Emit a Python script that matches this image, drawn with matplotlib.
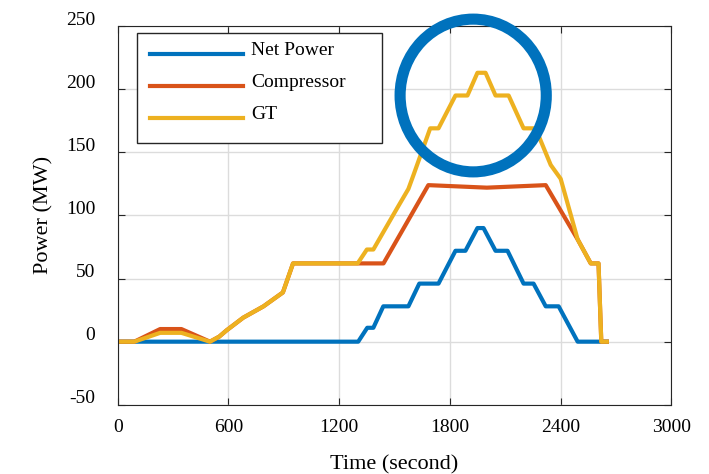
import matplotlib.pyplot as plt
import matplotlib
import matplotlib.transforms as mtransforms
from matplotlib.patches import Ellipse

matplotlib.rcParams['font.family'] = 'Liberation Serif'
matplotlib.rcParams['axes.unicode_minus'] = False

# Net power (MW) vs time (s)
net_t = [0, 1303, 1352, 1385, 1439, 1575, 1634, 1738, 1830, 1884, 1949, 1982,
         2047, 2112, 2199, 2253, 2319, 2389, 2492, 2650]
net_p = [0, 0, 11, 11, 28, 28, 46, 46, 72, 72, 90, 90,
         72, 72, 46, 46, 28, 28, 0, 0]

# Compressor
comp_t = [0, 90, 230, 345, 500, 550, 590, 680, 790, 895, 950, 1440, 1683,
          2000, 2319, 2492, 2563, 2605, 2620, 2650]
comp_p = [0, 0, 10, 10, 0, 4, 9, 19, 28, 39, 62, 62, 124,
          122, 124, 81, 62, 62, 0, 0]

# GT
gt_t = [0, 90, 230, 345, 500, 550, 590, 680, 790, 895, 950, 1300, 1350, 1385,
        1440, 1515, 1575, 1600, 1693, 1738, 1830, 1895, 1949, 1993, 2047, 2118,
        2199, 2264, 2346, 2400, 2492, 2563, 2605, 2620, 2650]
gt_p = [0, 0, 7, 7, 0, 4, 9, 19, 28, 39, 62, 62, 73, 73,
        87, 106, 121, 131, 169, 169, 195, 195, 213, 213, 195, 195,
        169, 169, 140, 129, 81, 62, 62, 0, 0]

fig = plt.figure(figsize=(7.09, 4.74), dpi=100)
ax = fig.add_axes([0.166, 0.146, 0.781, 0.799])

ax.plot(net_t, net_p, color='#0072BD', lw=3, label='Net Power')
ax.plot(comp_t, comp_p, color='#D95319', lw=3, label='Compressor')
ax.plot(gt_t, gt_p, color='#EDB120', lw=3, label='GT')

# highlight ring around the GT peak
ring = Ellipse((1926, 195), 792, 121, fill=False, edgecolor='#0072BD',
               lw=8, clip_on=False, zorder=5)
ax.add_patch(ring)

ax.set_xlim(0, 3000)
ax.set_ylim(-50, 250)
ax.set_xticks([0, 600, 1200, 1800, 2400, 3000])
ax.set_yticks([-50, 0, 50, 100, 150, 200, 250])
ax.tick_params(direction='in', top=True, right=True, labelsize=14,
               length=5, color='#262626')
ax.tick_params(axis='x', pad=10)
ax.tick_params(axis='y', pad=16)
# y tick labels sit a little above their grid lines
shift = mtransforms.ScaledTranslation(0, 8 / 100, fig.dpi_scale_trans)
for lab in ax.get_yticklabels():
    lab.set_transform(lab.get_transform() + shift)
for s in ax.spines.values():
    s.set_color('#262626')
ax.grid(True, color='#dcdcdc', lw=1)
ax.set_axisbelow(True)

ax.set_xlabel('Time (second)', fontsize=16, labelpad=14)
ax.set_ylabel('Power (MW)', fontsize=16, labelpad=9)

leg = ax.legend(loc='lower left', bbox_to_anchor=(0.034, 0.692, 0.443, 0.29),
                mode='expand', borderaxespad=0, borderpad=0.7,
                fontsize=14, handlelength=4.8, handletextpad=0.4,
                fancybox=False, framealpha=1,
                edgecolor='#262626', labelspacing=0.75)
leg.get_frame().set_linewidth(1)
for t in leg.get_texts():
    t.set_position((0, 6))

plt.savefig('out.png')
